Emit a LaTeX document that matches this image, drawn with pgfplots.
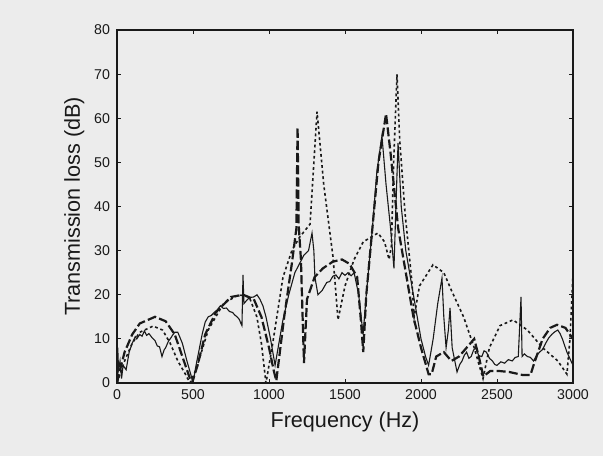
\documentclass[border=0pt]{standalone}
\usepackage{fontspec}
\setmainfont{Liberation Sans}
\usepackage{pgfplots}
\pgfplotsset{compat=1.18}
\definecolor{paper}{RGB}{236,236,236}
\definecolor{ink}{RGB}{25,25,25}

\begin{document}
\begin{tikzpicture}
% page = 603x456 px, 1 px = 0.5pt
\path[fill=paper] (0,0) rectangle (301.5pt,228pt);
\begin{axis}[
    at={(58.5pt,36.5pt)}, anchor=south west,
    width=228pt, height=176.5pt, scale only axis,
    xmin=0, xmax=3000, ymin=0, ymax=80,
    xtick={0,500,...,3000}, ytick={0,10,...,80},
    tick align=inside, major tick length=2.2pt,
    axis line style={line width=0.9pt, ink},
    tick style={line width=0.5pt, ink},
    xlabel={Frequency (Hz)}, ylabel={Transmission loss (dB)},
    label style={font=\fontsize{10.8}{13}\selectfont, ink},
    tick label style={font=\fontsize{7.1}{8.5}\selectfont, ink},
    /pgf/number format/assume math mode=true,
    scaled x ticks=false,
    x tick label style={/pgf/number format/1000 sep={}},
    xlabel style={yshift=1pt},
    ylabel style={yshift=-2pt},
    clip=true,
]
% ---- solid (measured) ----
\addplot[ink, line width=0.55pt] coordinates {
(0,0) (5,8) (10,3) (20,5) (30,1) (40,4) (60,3) (80,7) (100,9) (120,10.5)
(130,10) (150,11) (165,10.6) (180,11.8) (195,10.8) (210,11.2) (230,10.3)
(250,9.6) (265,8.4) (280,8.2) (296,6) (310,7.5) (320,8) (340,9.6)
(350,10) (365,10.8) (380,11.5) (400,11.5) (430,9) (460,5) (485,2) (500,0) (520,4)
(560,11) (580,13.8) (600,15) (620,15.3) (640,16) (660,16.6) (680,17.5)
(700,16.9) (720,17) (740,16.2) (760,16) (775,15.4) (790,15) (805,14.4) (815,13.5)
(822,13) (829,24.5) (835,18) (850,18.6) (860,19) (880,19.4) (900,19.5)
(921,20) (940,19) (960,17.5) (980,15)
(1010,10) (1040,4) (1060,8) (1090,14) (1130,20) (1170,25) (1200,27)
(1230,29) (1260,30) (1283,34) (1295,30) (1302,24) (1322,20) (1350,21)
(1380,22.8) (1400,23) (1420,24.2) (1440,24.5) (1460,23.6) (1480,25)
(1500,24.4) (1520,25) (1540,24.3) (1560,25) (1590,20) (1619,11)
(1640,20) (1680,35) (1710,48) (1743,56) (1770,45) (1800,35) (1822,26)
(1835,40) (1849,54.4) (1870,40) (1900,30) (1950,20) (2000,10) (2030,6)
(2050,4) (2080,10) (2110,18) (2138,23.8) (2150,15) (2165,8) (2180,12)
(2191,17) (2205,8) (2237,2.5) (2255,4.2) (2270,5) (2285,6.3) (2300,7) (2315,5.6)
(2330,6) (2345,7.4) (2360,8) (2380,6.2) (2400,6) (2415,7.3) (2430,7)
(2450,5.6) (2470,5) (2485,4.2) (2500,4) (2525,4.8) (2550,4.5) (2575,5.3) (2600,5)
(2620,5.8) (2640,6)
(2658,19.5) (2665,6) (2680,6.6) (2700,6) (2720,5.8) (2740,5) (2760,6.2) (2780,7)
(2800,7.6) (2820,9) (2840,10.2) (2860,11)
(2880,11.6) (2900,12) (2915,11.2) (2930,10) (2960,7) (3000,4)
};
% ---- dash-dot (theory 1) ----
\addplot[ink, line width=1.1pt, dash pattern=on 4.5pt off 1.6pt] coordinates {
(0,0) (20,3) (50,7) (100,11) (150,13.5) (250,15) (320,14) (380,11)
(420,7) (460,3) (480,1) (493,0) (530,4) (580,11) (650,16) (750,19.5)
(830,20) (900,19) (950,15) (1000,8) (1030,3) (1048,0.5) (1100,15)
(1150,27) (1180,35) (1188,58) (1195,36) (1210,28) (1230,4.5) (1250,19)
(1300,24) (1355,26) (1420,27.5) (1480,28) (1530,27) (1580,24) (1605,14)
(1620,7) (1640,20) (1680,35) (1720,50) (1770,61) (1800,52) (1850,35)
(1900,25) (1950,15) (2000,8) (2050,2) (2070,2) (2100,6) (2150,7)
(2200,5) (2250,6) (2300,8) (2350,10) (2380,6) (2410,1.5) (2455,2.7)
(2520,2.7) (2580,2.5) (2620,2.2) (2670,1.8) (2720,1.8) (2740,4)
(2800,10) (2850,12.5) (2895,13.2) (2950,12.5) (3000,10)
};
% ---- dotted (theory 2) ----
\addplot[ink, line width=0.8pt, dash pattern=on 1.4pt off 1.4pt] coordinates {
(0,0) (50,5) (100,9) (150,11.5) (237,12.9) (300,12) (350,9) (400,5)
(450,2) (480,0) (520,3) (600,12) (700,18) (800,20) (870,19.5) (920,15)
(950,9) (980,0) (1020,8) (1092,24) (1150,30) (1200,33) (1270,36)
(1316,61.5) (1360,45) (1421,28.6) (1454,14.3) (1500,22) (1560,28)
(1620,32) (1717,34) (1760,32) (1790,28) (1805,31) (1820,50) (1842,70)
(1860,55) (1895,38.5) (1940,23) (1955,15) (1990,22) (2079,26.8)
(2150,25) (2200,21) (2280,15) (2350,8) (2408,1) (2450,8) (2520,13)
(2605,14.3) (2700,12) (2800,8) (2900,5) (2960,2) (2980,10) (3000,25)
};
\end{axis}
\end{tikzpicture}
\end{document}
